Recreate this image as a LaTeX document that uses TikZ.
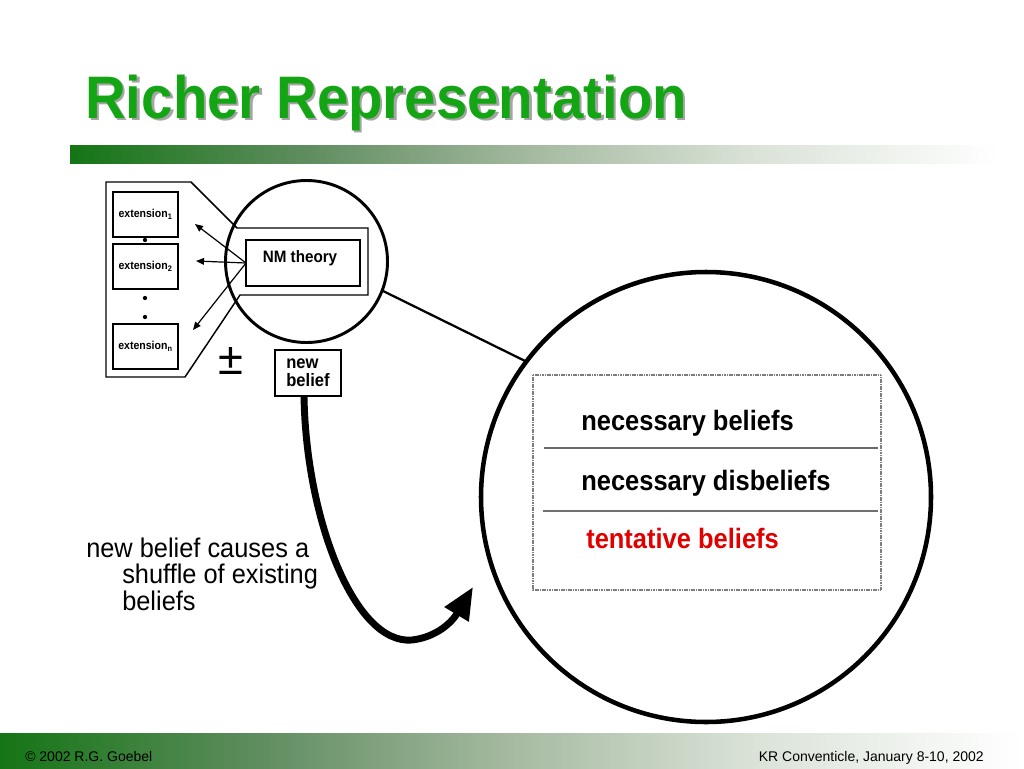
\documentclass[tikz,border=0pt]{standalone}
\usepackage{graphicx}
\usepackage{fontspec}
\setmainfont{Liberation Sans}
\usetikzlibrary{arrows.meta}
\definecolor{titlegreen}{RGB}{20,165,20}
\definecolor{tshadow}{RGB}{165,165,165}
\definecolor{tentred}{RGB}{225,0,0}
\definecolor{hatch}{RGB}{125,125,125}
\pgfdeclarehorizontalshading{gbar}{100bp}{rgb(0bp)=(0.08,0.46,0.08); rgb(25bp)=(0.08,0.46,0.08); rgb(37.5bp)=(0.37,0.55,0.37); rgb(50bp)=(0.65,0.73,0.63); rgb(62bp)=(0.86,0.89,0.85); rgb(75bp)=(1,1,1); rgb(100bp)=(1,1,1)}
\newcommand{\sq}[2][0.92]{\scalebox{#1}[1]{#2}}
\tikzset{
  thinline/.style={line width=1.1pt, line join=miter},
  extbox/.style={draw, line width=1.1pt, minimum width=48.75pt, minimum height=33.75pt, inner sep=0, outer sep=0, fill=white, font=\fontsize{8.6}{10}\selectfont\bfseries},
  plainbox/.style={draw, line width=1.1pt, inner sep=0, outer sep=0, fill=white},
  thinarrow/.style={line width=0.9pt, -{Triangle[length=6pt,width=5pt]}},
  bigarrow/.style={line width=5.2pt, -{Triangle[length=24pt,width=20pt]}},
  lbl/.style={font=\fontsize{21}{25}\selectfont\bfseries, inner sep=0, anchor=base west},
  body/.style={font=\fontsize{20.25}{24}\selectfont, inner sep=0, anchor=base west},
  foot/.style={font=\fontsize{10.5}{12}\selectfont, inner sep=0},
  ring/.style={circle, draw, inner sep=0, outer sep=0},
  hatchline/.style={draw=hatch, line width=1.8pt, dash pattern=on 0.9pt off 0.4pt},
}
\begin{document}
\begin{tikzpicture}[x=0.75pt,y=-0.75pt]
\useasboundingbox (0,0) rectangle (1024,768);
\fill[white] (0,0) rectangle (1024,768);

% bars
\shade[shading=gbar] (70,145) rectangle (1000,163);
\shade[shading=gbar] (0,733) rectangle (1024,768);

% title with its shadow
\node[font=\fontsize{45}{54}\selectfont\bfseries, text=tshadow, anchor=base west, inner sep=0] (tsh) at (87.5,120.5) {\sq[0.94]{Richer Representation}};
\node[font=\fontsize{45}{54}\selectfont\bfseries, text=titlegreen, anchor=base west, inner sep=0] (title) at (85,118) {\sq[0.94]{Richer Representation}};

% footer
\node[foot, anchor=base west] (fl) at (25,761) {© 2002 R.G. Goebel};
\node[foot, anchor=base east] (fr) at (984,761) {KR Conventicle, January 8-10, 2002};

% callout outline
\draw[thinline] (106,182) -- (191,182) -- (237,228) -- (368,228) -- (368,295) -- (240,295) -- (185,377) -- (106,377) -- cycle;

% extension boxes
\node[extbox] (ext1) at (145.5,214.5) {\sq{extension\textsubscript{1}}};
\node[extbox] (ext2) at (145.5,266.5) {\sq{extension\textsubscript{2}}};
\node[extbox] (extn) at (145.5,346.5) {\sq{extension\textsubscript{n}}};
\fill (145,240) circle (1.6pt);
\fill (145,298) circle (1.6pt);
\fill (145,317) circle (1.6pt);

% NM theory
\node[plainbox, minimum width=85.5pt, minimum height=34.5pt] (nmbox) at (303,263) {};
\node[font=\fontsize{12.4}{14}\selectfont\bfseries, inner sep=0] (nmtext) at (300,258) {\sq{NM theory}};

% small circle
\node[ring, line width=2.2pt, minimum size=121.5pt] (sc) at (306.5,261.5) {};

% arrows to extensions
\coordinate (a1) at (195,224);
\coordinate (a2) at (196,261);
\coordinate (a3) at (193,330);
\draw[thinarrow] (nmbox.west) -- (a1);
\draw[thinarrow] (nmbox.west) -- (a2);
\draw[thinarrow] (nmbox.west) -- (a3);

% plus-minus
\node[font=\fontsize{34}{40}\selectfont, inner sep=0] (pm) at (231,361) {±};

% new belief
\node[plainbox, minimum width=49.5pt, minimum height=34.5pt, align=left, font=\fontsize{13.5}{13.5}\selectfont\bfseries] (nb) at (308,373) {\sq{new}\\\sq{belief}};

% big circle
\node[ring, line width=3.4pt, minimum size=337.5pt] (bc) at (706,497) {};
\draw[line width=1.7pt] (sc.-21) -- (bc.143);

% belief store
\draw[hatchline] (533,375) rectangle (881,590);
\draw[draw=hatch!85!black, line width=2.2pt] (544,448) -- (878,448);
\draw[draw=hatch!90!black, line width=1.1pt] (543,511) -- (878,511);
\node[lbl] (lb1) at (581,430) {\sq[0.91]{necessary beliefs}};
\node[lbl] (lb2) at (581,490) {\sq[0.91]{necessary disbeliefs}};
\node[lbl, text=tentred] (lb3) at (586,548) {\sq[0.91]{tentative beliefs}};

% thick arrow
\coordinate (ah) at (473,587);
\draw[bigarrow] ([xshift=-3pt]nb.south) .. controls (306,520) and (355,645) .. (412,640) .. controls (437,637) and (452,622) .. (ah);

% caption
\node[body] (t1) at (86,557) {\sq[0.94]{new belief causes a}};
\node[body] (t2) at (122,583) {\sq[0.94]{shuffle of existing}};
\node[body] (t3) at (122,610) {\sq[0.94]{beliefs}};
\end{tikzpicture}
\end{document}
